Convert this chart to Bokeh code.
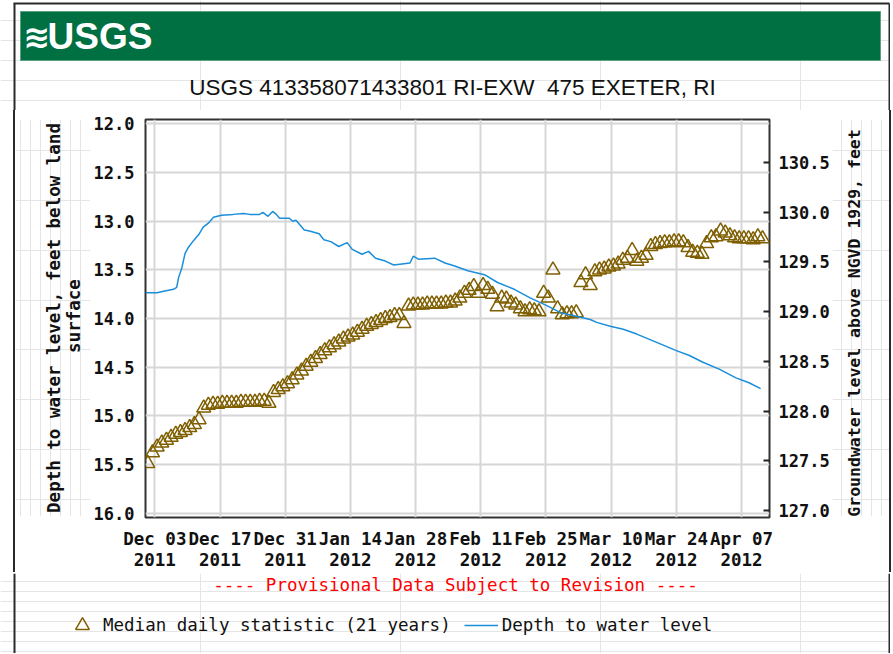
import math
import pandas as pd
from bokeh.plotting import figure
from bokeh.layouts import column, row
from bokeh.models import (Range1d, LinearAxis, FixedTicker, DatetimeTickFormatter,
                          PrintfTickFormatter, Legend, LegendItem, Spacer)
from bokeh.core.properties import value
from bokeh.embed import file_html
from bokeh.resources import INLINE

# ---------------- data ----------------
start_date = "2011-12-01"
end_date = "2012-04-13"
tick_dates = ["2011-12-03", "2011-12-17", "2011-12-31", "2012-01-14", "2012-01-28",
              "2012-02-11", "2012-02-25", "2012-03-10", "2012-03-24", "2012-04-07"]
left_ticks = [12.0, 12.5, 13.0, 13.5, 14.0, 14.5, 15.0, 15.5, 16.0]
right_ticks = [127.0, 127.5, 128.0, 128.5, 129.0, 129.5, 130.0, 130.5]

# depth to water level (feet below land surface); time in days after 2011-12-01 00:00
depth_days = [0.0, 2.5, 3.9, 6.0, 6.7, 7.1, 7.8, 8.5, 9.2, 10.3, 11.4, 12.4, 13.5, 14.6, 16.3,
              18.8, 21.0, 22.4, 24.5, 25.2, 26.3, 27.3, 28.1, 28.8, 30.9, 31.6, 32.3, 34.1, 35.2,
              37.3, 38.3, 39.8, 41.5, 43.3, 44.4, 46.5, 47.9, 49.4, 51.5, 53.3, 56.8, 57.5, 58.6,
              62.1, 64.3, 66.4, 69.2, 72.8, 75.6, 79.2, 82.7, 86.3, 89.1, 92.7, 95.5, 96.9, 99.8,
              102.6, 105.5, 109.0, 114.0, 116.8, 119.7, 123.2, 126.8, 129.6, 132.1]
depth_ft = [13.735, 13.735, 13.72, 13.70, 13.68, 13.58, 13.48, 13.33, 13.27, 13.20, 13.14, 13.06,
            13.02, 12.96, 12.94, 12.93, 12.92, 12.93, 12.93, 12.91, 12.95, 12.90, 12.93, 12.97,
            12.97, 13.00, 12.99, 13.09, 13.10, 13.13, 13.19, 13.21, 13.26, 13.22, 13.29, 13.34,
            13.31, 13.38, 13.41, 13.45, 13.43, 13.36, 13.39, 13.38, 13.43, 13.46, 13.51, 13.55,
            13.63, 13.70, 13.79, 13.87, 13.94, 13.98, 14.01, 14.04, 14.08, 14.11, 14.16, 14.23,
            14.33, 14.38, 14.45, 14.52, 14.61, 14.66, 14.72]

# median daily statistic (21 years), one value per day from 2011-12-01 to 2012-04-12
median_depth = [
    15.49, 15.38, 15.32, 15.28, 15.25, 15.22, 15.19, 15.17, 15.15, 15.12,
    15.09, 15.04, 14.92, 14.89, 14.88, 14.88, 14.87, 14.87, 14.87, 14.87,
    14.86, 14.86, 14.86, 14.86, 14.85, 14.85, 14.87, 14.76, 14.73, 14.70,
    14.67, 14.63, 14.58, 14.54, 14.49, 14.45, 14.41, 14.37, 14.33, 14.30,
    14.27, 14.24, 14.21, 14.19, 14.17, 14.14, 14.11, 14.08, 14.06, 14.04,
    14.02, 14.00, 13.99, 13.97, 13.97, 14.05, 13.87, 13.86, 13.86, 13.86,
    13.85, 13.85, 13.85, 13.85, 13.84, 13.84, 13.82, 13.79, 13.74, 13.71,
    13.67, 13.74, 13.66, 13.70, 13.75, 13.88, 13.79, 13.80, 13.84, 13.86,
    13.90, 13.93, 13.91, 13.92, 13.93, 13.74, 13.79, 13.50, 13.90, 13.96,
    13.95, 13.95, 13.94, 13.63, 13.55, 13.66, 13.52, 13.50, 13.49, 13.47,
    13.46, 13.44, 13.40, 13.38, 13.30, 13.41, 13.38, 13.35, 13.26, 13.24,
    13.23, 13.22, 13.22, 13.21, 13.21, 13.22, 13.27, 13.32, 13.33, 13.34,
    13.23, 13.17, 13.16, 13.10, 13.12, 13.15, 13.17, 13.18, 13.18, 13.18,
    13.19, 13.16, 13.18]
median_dates = pd.date_range(start_date, periods=len(median_depth), freq="D")

title_text = "USGS 413358071433801 RI-EXW \u00a0475 EXETER, RI"
left_label_1 = "Depth to water level, feet below land"
left_label_2 = "surface"
right_label = "Groundwater level above NGVD 1929, feet"
note_text = "---- Provisional Data Subject to Revision ----"
legend_labels = ["Median daily statistic (21 years)", "Depth to water level"]

# ---------------- styles ----------------
MONO = "DejaVu Sans Mono"
SANS = "Liberation Sans"
TRI_COLOR = "#7f5f00"
LINE_COLOR = "#1a8edb"
TEXT = "#111111"
BORDER = "#2a2a2a"

W_ALL = 890
H_HEAD, H_MID, H_FOOT = 110, 462, 80
TOP_B, BOT_B = 9, 55              # main plot top / bottom borders
W_PAD, W_VL, W_LEFT, W_MAIN, W_RIGHT = 13, 2, 75, 741, 57


def ms(ts):
    return pd.Timestamp(ts).value / 1e6


DAY = 86400000.0
t0 = ms(start_date)
line_x = [t0 + d * DAY for d in depth_days]
med_x = [ms(d) + DAY / 2 for d in median_dates]


def canvas_fig(width, height, x0, y0, top=0, bottom=0):
    """Figure whose coordinates are page pixels (x0..x0+width, y0 downwards)."""
    f = figure(width=width, height=height,
               x_range=Range1d(x0, x0 + width),
               y_range=Range1d(y0 + height - bottom, y0 + top),
               x_axis_location=None, y_axis_location=None,
               min_border_left=0, min_border_right=0,
               min_border_top=top, min_border_bottom=bottom,
               output_backend="svg", toolbar_location=None)
    f.outline_line_color = None
    f.background_fill_color = "white"
    f.border_fill_color = "white"
    return f


def txt(f, x, y, s, font, size, style="normal", color=TEXT, align="center", angle=0.0):
    f.text(x=[x], y=[y], text=[s], text_font=value(font), text_font_size=value(size),
           text_font_style=style, text_color=color, text_align=align,
           text_baseline="middle", angle=angle)


# ---------------- header ----------------
head = canvas_fig(W_ALL, H_HEAD, 0, 0)
head.segment(x0=[13, 14, 889], y0=[3, 3, 3], x1=[889, 14, 889], y1=[3, 110, 110],
             line_color=BORDER, line_width=2)
head.quad(left=[20], right=[880], top=[11], bottom=[60], fill_color="#006f41",
          line_color="#5e9f80", line_width=1)
txt(head, 36.5, 36, "\u224b", "DejaVu Sans", "32px", "bold", "white")
txt(head, 47, 36, "USGS", SANS, "37px", "bold", "white", align="left")
txt(head, 452, 87, title_text, SANS, "22.5px")

# ---------------- left / right strips ----------------
x_left0 = W_PAD + W_VL
left = canvas_fig(W_LEFT, H_MID, x_left0, H_HEAD, TOP_B, BOT_B)
txt(left, 53, 318, left_label_1, MONO, "17.5px", "bold", angle=math.pi / 2)
txt(left, 73, 316, left_label_2, MONO, "17.5px", "bold", angle=math.pi / 2)

x_right0 = x_left0 + W_LEFT + W_MAIN
right = canvas_fig(W_RIGHT, H_MID, x_right0, H_HEAD, TOP_B, BOT_B)
txt(right, 853, 323, right_label, MONO, "16.5px", "bold", angle=math.pi / 2)

# ---------------- main plot ----------------
p = figure(x_axis_type="datetime", frame_width=624, frame_height=398,
           min_border_left=55, min_border_right=62, min_border_top=TOP_B,
           min_border_bottom=BOT_B,
           x_range=Range1d(t0, ms(end_date)), y_range=Range1d(16.045, 11.955),
           output_backend="svg", toolbar_location=None)
p.background_fill_color = "white"
p.border_fill_color = "white"
p.outline_line_color = "#333333"
p.outline_line_width = 2

xa = p.xaxis[0]
xa.ticker = FixedTicker(ticks=[ms(d) for d in tick_dates])
fmt = "%b %d\n%Y"
xa.formatter = DatetimeTickFormatter(days=fmt, months=fmt, years=fmt, hours=fmt, hourmin=fmt)
xa.major_tick_out = 0
xa.major_tick_in = 0
xa.minor_tick_out = 0
xa.minor_tick_in = 0
xa.axis_line_color = None
xa.major_label_standoff = 11
xa.major_label_text_font = MONO
xa.major_label_text_font_style = "bold"
xa.major_label_text_font_size = "17.5px"
xa.major_label_text_line_height = 1.08
xa.major_label_text_color = TEXT

ya = p.yaxis[0]
ya.ticker = FixedTicker(ticks=left_ticks)
ya.formatter = PrintfTickFormatter(format="%.1f")
ya.major_tick_out = 0
ya.major_tick_in = 0
ya.minor_tick_out = 0
ya.minor_tick_in = 0
ya.axis_line_color = None
ya.major_label_standoff = 11
ya.major_label_text_font = MONO
ya.major_label_text_font_style = "bold"
ya.major_label_text_font_size = "17px"
ya.major_label_text_color = TEXT

p.extra_y_ranges = {"elev": Range1d(126.93, 130.93)}
ra = LinearAxis(y_range_name="elev", ticker=FixedTicker(ticks=right_ticks),
                formatter=PrintfTickFormatter(format="%.1f"))
ra.major_tick_in = 6
ra.major_tick_out = 0
ra.minor_tick_in = 0
ra.minor_tick_out = 0
ra.major_tick_line_color = "#222222"
ra.major_tick_line_width = 2
ra.axis_line_color = None
ra.major_label_standoff = 9
ra.major_label_text_font = MONO
ra.major_label_text_font_style = "bold"
ra.major_label_text_font_size = "17px"
ra.major_label_text_color = TEXT
p.add_layout(ra, "right")

p.xgrid.grid_line_color = "#d6d6d6"
p.xgrid.grid_line_width = 2
p.ygrid.grid_line_color = "#d6d6d6"
p.ygrid.grid_line_width = 2

p.scatter(med_x, median_depth, marker="triangle", size=14, fill_color=None,
          line_color=TRI_COLOR, line_width=1.5)
p.line(line_x, depth_ft, line_color=LINE_COLOR, line_width=1.5)

# ---------------- footer ----------------
y_top, y_bot = H_HEAD + H_MID, H_HEAD + H_MID + H_FOOT
foot = canvas_fig(W_ALL, H_FOOT, 0, y_top)
foot.segment(x0=[14, 889], y0=[y_top, y_top], x1=[14, 889], y1=[y_bot, y_bot],
             line_color=BORDER, line_width=2)
txt(foot, 455, 583, note_text, MONO, "17.5px", color="#ff0000")
# legend samples (same series, outside this strip's visible range)
lg_tri = foot.scatter(med_x, median_depth, marker="triangle", size=14, fill_color=None,
                      line_color=TRI_COLOR, line_width=1.5)
lg_line = foot.line(line_x, depth_ft, line_color=LINE_COLOR, line_width=1.5)
legend = Legend(items=[LegendItem(label=legend_labels[0], renderers=[lg_tri]),
                       LegendItem(label=legend_labels[1], renderers=[lg_line])],
                orientation="horizontal", location=(65, 11), padding=0, margin=0,
                spacing=13, glyph_width=34, glyph_height=34, label_standoff=4,
                border_line_alpha=0, background_fill_alpha=0, label_text_font=MONO,
                label_text_font_size="17.5px", label_text_color=TEXT)
foot.add_layout(legend)


def bar(width, color):
    return Spacer(width=width, height=H_MID, margin=0,
                  styles={"background-color": color})


mid = row(bar(W_PAD, "white"), bar(W_VL, BORDER), left, p, right, bar(W_VL, BORDER))
layout = column(head, mid, foot)
open("out.html", "w").write(file_html(layout, INLINE))
